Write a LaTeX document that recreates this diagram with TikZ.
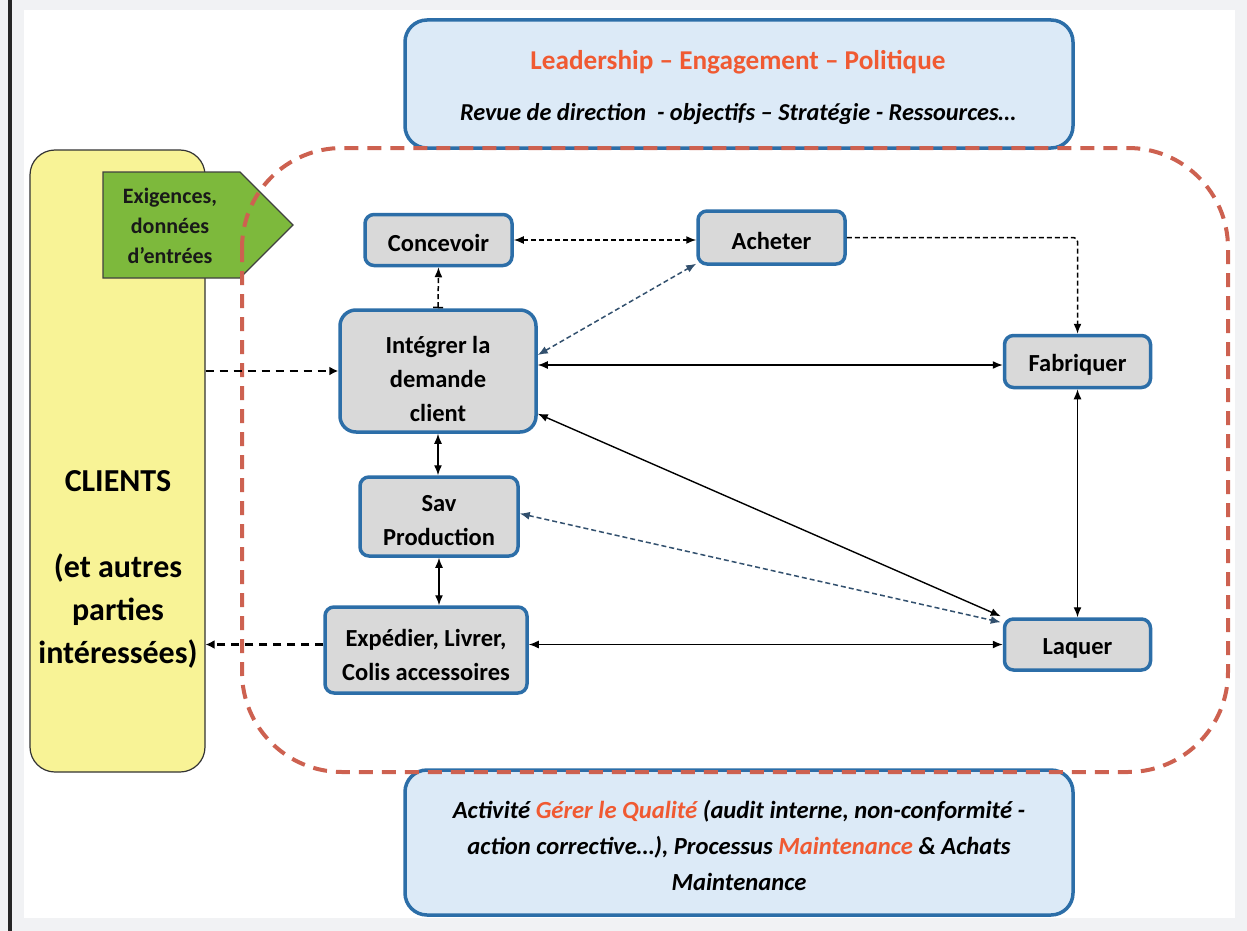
\documentclass[tikz,border=0pt]{standalone}
\usepackage{fontspec}
\setmainfont{Carlito}
\usetikzlibrary{arrows.meta,calc}
\definecolor{bgray}{RGB}{241,242,244}
\definecolor{nblue}{RGB}{44,110,168}
\definecolor{ngray}{RGB}{217,217,217}
\definecolor{lblue}{RGB}{220,234,247}
\definecolor{rdash}{RGB}{205,97,80}
\definecolor{otext}{RGB}{240,90,50}
\definecolor{cyellow}{RGB}{248,243,150}
\definecolor{cgreen}{RGB}{125,185,60}
\definecolor{dblue}{RGB}{50,80,110}
\newcommand{\procfont}{\bfseries\fontsize{24.5}{34}\selectfont}
\tikzset{
  proc/.style={draw=nblue, line width=3.5pt, fill=ngray, rounded corners=9pt, inner sep=0pt},
  ptext/.style={align=center, font=\procfont, inner sep=0pt},
  bigbox/.style={draw=nblue, line width=3.5pt, fill=lblue, rounded corners=22pt,
    minimum width=668pt, inner sep=0pt},
  solidc/.style={line width=1.4pt, black, {Latex[length=10pt,width=8pt]}-{Latex[length=10pt,width=8pt]}},
  dashthick/.style={line width=2.6pt, black, dash pattern=on 8pt off 6pt, -{Latex[length=9pt,width=9pt]}},
  dashthin/.style={line width=1.5pt, black, dash pattern=on 5pt off 3pt},
  dashblue/.style={line width=1.5pt, dblue, dash pattern=on 5pt off 3pt},
  tipboth/.style={{Latex[length=10pt,width=8pt]}-{Latex[length=10pt,width=8pt]}},
  tipend/.style={-{Latex[length=10pt,width=8pt]}},
  reddashed/.style={draw=rdash, line width=4pt, dash pattern=on 14pt off 9pt, rounded corners=100pt}
}
\begin{document}
\begin{tikzpicture}[x=1pt,y=-1pt]
\useasboundingbox (0,0) rectangle (1247,931);
\fill[bgray] (0,0) rectangle (1247,931);
\fill[white] (24,10) rectangle (1235,918);
\fill[black!85] (8,0) rectangle (12,931);

% Clients box
\node[draw=black!80, line width=1.2pt, fill=cyellow, rounded corners=25pt,
  minimum width=175pt, minimum height=622pt, inner sep=0pt] (cli) at (117.5,461) {};
\node[font=\bfseries\fontsize{32}{43}\selectfont, align=center] (cliT) at (118,569)
  {CLIENTS\\[0pt] \\(et autres\\parties\\intéressées)};

% Green input arrow
\draw[fill=cgreen, draw=black!75, line width=1.2pt] (103,172) -- (240,172) -- (293,225) -- (240,278) -- (103,278) -- cycle;
\node[font=\bfseries\fontsize{22}{30}\selectfont, align=center, text=black!90] (exig) at (170,226)
  {Exigences,\\données\\d’entrées};

% Top and bottom boxes
\node[bigbox, minimum height=128pt] (top) at (739,84) {};
\node[font=\bfseries\fontsize{27.2}{30}\selectfont, text=otext] (topA) at (738,62)
  {Leadership – Engagement – Politique};
\node[font=\bfseries\itshape\fontsize{24.3}{28}\selectfont] (topB) at (738,114)
  {Revue de direction\ \ - objectifs – Stratégie - Ressources…};
\node[bigbox, minimum height=145pt] (bot) at (739,842.5) {};
\node[font=\bfseries\itshape\fontsize{24.6}{36}\selectfont, align=center] (botT) at (739,845)
  {Activité \textcolor{otext}{Gérer le Qualité} (audit interne, non-conformité -\\
   action corrective…), Processus \textcolor{otext}{Maintenance} \& Achats\\
   Maintenance};

% Red dashed process area
\draw[reddashed] (242,148) rectangle (1228,772);

% Process nodes
\node[proc, minimum width=147pt, minimum height=51pt] (conc) at (438.5,240) {};
\node[ptext] (concT) at ([yshift=-3pt]conc.center) {Concevoir};
\node[proc, minimum width=147pt, minimum height=53pt] (ach) at (771.5,237.5) {};
\node[ptext] (achT) at ([yshift=-3pt]ach.center) {Acheter};
\node[proc, minimum width=196pt, minimum height=122pt, rounded corners=16pt] (integ) at (438,371) {};
\node[ptext] (integT) at ([yshift=-8pt]integ.center) {Intégrer la\\demande\\client};
\node[proc, minimum width=158pt, minimum height=79pt] (sav) at (439,516.5) {};
\node[ptext] (savT) at ([yshift=-4pt]sav.center) {Sav\\Production};
\node[proc, minimum width=202pt, minimum height=86pt] (expe) at (426,650) {};
\node[ptext] (expeT) at ([yshift=-5pt]expe.center) {Expédier, Livrer,\\Colis accessoires};
\node[proc, minimum width=146pt, minimum height=52pt] (fab) at (1077.5,361.5) {};
\node[ptext] (fabT) at ([yshift=-3pt]fab.center) {Fabriquer};
\node[proc, minimum width=146pt, minimum height=51pt] (laq) at (1077.5,644.5) {};
\node[ptext] (laqT) at ([yshift=-4pt]laq.center) {Laquer};

% Connectors
\draw[dashthick] (cli.east |- integ.west) -- (integ.west);
\draw[dashthick] (expe.west |- laq.west) -- (cli.east |- laq.west);
\draw[dashthin, tipboth] (conc.east) -- (ach.west |- conc.east);
\draw[dashthin, {Bar[width=10pt,line width=1.5pt]}-{Latex[length=10pt,width=8pt]}] (integ.north) -- (conc.south);
\draw[dashblue, tipboth] ([yshift=16pt]integ.east) -- ([yshift=2pt]ach.south west);
\draw[dashthin, tipend, rounded corners=4pt] (ach.east) -| (fab.north);
\draw[solidc] (integ.east |- 0,365) -- (fab.west |- 0,365);
\draw[solidc] (fab.south) -- (laq.north);
\draw[solidc] ([yshift=20pt]integ.south east) -- ([xshift=-2pt,yshift=1pt]laq.north west);
\draw[dashblue, tipboth] ([yshift=3pt]sav.east) -- ([xshift=-2pt,yshift=-5pt]laq.north west);
\draw[solidc] (integ.south) -- (integ.south |- sav.north);
\draw[solidc] (sav.south) -- (sav.south |- expe.north);
\draw[solidc] (expe.east |- laq.west) -- (laq.west);
\end{tikzpicture}
\end{document}
